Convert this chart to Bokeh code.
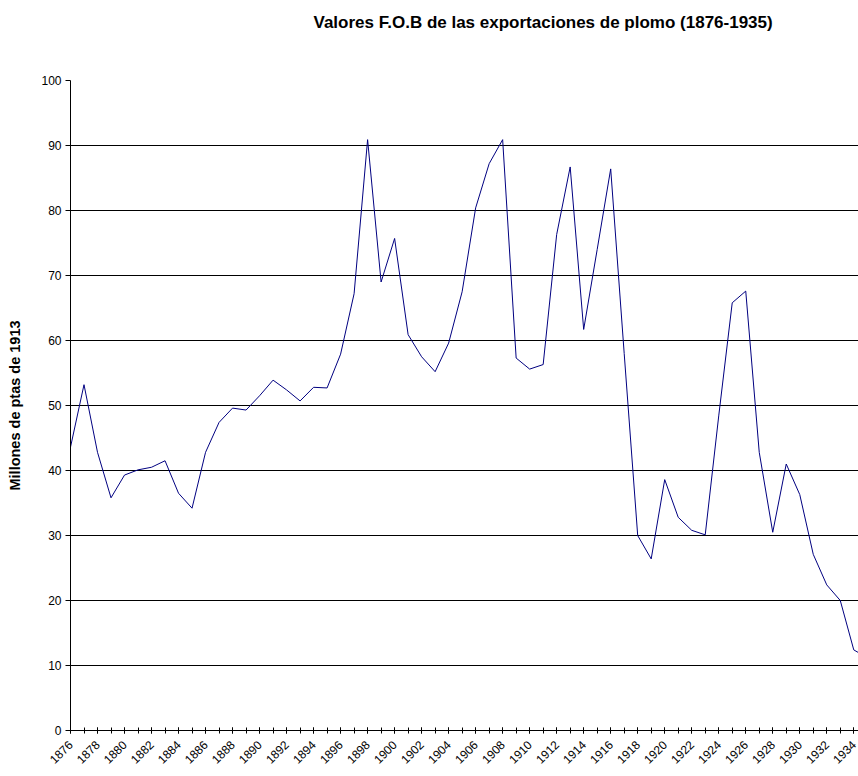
import math
from bokeh.plotting import figure
from bokeh.models import FixedTicker, Range1d, Title
from bokeh.embed import file_html
from bokeh.resources import INLINE

# ---- data ----
years = list(range(1876, 1936))
values = [43.6, 53.2, 42.8, 35.8, 39.3, 40.1, 40.5, 41.5, 36.5, 34.2,
          42.8, 47.4, 49.6, 49.3, 51.5, 53.9, 52.4, 50.7, 52.8, 52.7,
          57.9, 67.2, 90.9, 69.0, 75.7, 60.9, 57.5, 55.2, 59.6, 67.5,
          80.4, 87.2, 90.9, 57.3, 55.6, 56.3, 76.3, 86.7, 61.7, 74.0,
          86.4, 58.0, 30.0, 26.4, 38.6, 32.8, 30.8, 30.1, 48.4, 65.8,
          67.6, 42.8, 30.5, 41.0, 36.3, 27.1, 22.4, 20.0, 12.4, 11.2]
label_years = [y for y in years if (y - 1876) % 2 == 0 and y <= 1934]
y_ticks = [0, 10, 20, 30, 40, 50, 60, 70, 80, 90, 100]

title_text = "Valores F.O.B de las exportaciones de plomo (1876-1935)"
y_label = "Millones de ptas de 1913"

FONT = "Liberation Sans"

p = figure(width=858, height=776, title=None,
           output_backend="svg", toolbar_location=None,
           x_range=Range1d(1876, 1934.35), y_range=Range1d(0, 100),
           min_border_left=70, min_border_right=0, min_border_top=80,
           min_border_bottom=46)

# blank spacer panel between the title and the plot frame (closest to frame)
p.add_layout(Title(text=" ", standoff=14, text_font=FONT,
                   text_font_size="17px", text_font_style="bold"), "above")
# chart title (outermost panel)
p.add_layout(Title(text=title_text, align="left", offset=243,
                   vertical_align="top", standoff=24,
                   text_font=FONT, text_font_size="17px",
                   text_font_style="bold", text_color="#000000"), "above")

p.outline_line_color = None
p.background_fill_color = "#ffffff"
p.border_fill_color = "#ffffff"

p.line(years, values, line_color="#000080", line_width=1)

# Grid
p.xgrid.grid_line_color = None
p.ygrid.ticker = FixedTicker(ticks=y_ticks[1:])
p.ygrid.grid_line_color = "#000000"
p.ygrid.grid_line_width = 1

# Y axis
yax = p.yaxis[0]
yax.ticker = FixedTicker(ticks=y_ticks)
yax.axis_line_color = "#000000"
yax.axis_line_width = 1
yax.major_tick_in = 0
yax.major_tick_out = 5
yax.minor_tick_line_color = None
yax.major_label_standoff = 4
yax.major_label_text_font = FONT
yax.major_label_text_font_size = "12px"
yax.major_label_text_color = "#000000"
yax.axis_label = y_label
yax.axis_label_text_font = FONT
yax.axis_label_text_font_size = "14.5px"
yax.axis_label_text_font_style = "bold"
yax.axis_label_text_color = "#000000"
yax.axis_label_standoff = 15

# X axis
xax = p.xaxis[0]
xax.ticker = FixedTicker(ticks=label_years, minor_ticks=years)
xax.axis_line_color = "#000000"
xax.major_tick_in = 3
xax.major_tick_out = 3
xax.minor_tick_in = 3
xax.minor_tick_out = 3
xax.minor_tick_line_color = "#000000"
xax.major_label_orientation = math.pi / 4
xax.major_label_standoff = 9
xax.major_label_text_font = FONT
xax.major_label_text_font_size = "12px"
xax.major_label_text_color = "#000000"

open("out.html", "w").write(file_html(p, INLINE))
